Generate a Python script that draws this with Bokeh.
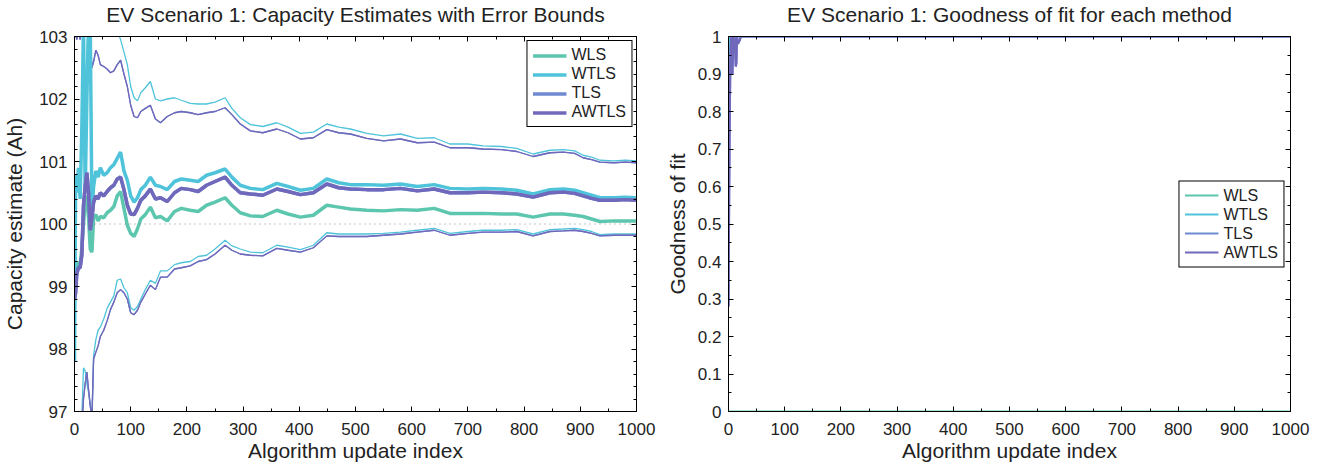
from bokeh.plotting import figure
from bokeh.layouts import row
from bokeh.models import (LinearAxis, Range1d, SingleIntervalTicker, Span, Legend,
                          LegendItem, CustomJSTickFormatter, CustomLabelingPolicy)
from bokeh.embed import file_html
from bokeh.resources import INLINE

# ---------------- data ----------------
update_index = [0, 2, 4, 7, 10, 13, 16, 19, 22, 25,
                28, 31, 34, 38, 42, 46, 52, 58, 64, 70,
                76, 82, 88, 94, 100, 106, 112, 118, 126, 135,
                144, 153, 165, 178, 190, 206, 220, 235, 250, 268,
                280, 295, 313, 335, 360, 380, 402, 425, 449, 470,
                491, 520, 550, 580, 610, 640, 668, 700, 727, 760,
                787, 816, 846, 870, 890, 905, 920, 935, 960, 980,
                1000]

wls_est = [99.1, 99.3, 99.2, 99.4, 99.35, 99.6, 100.0, 100.35, 100.45, 100.1,
           99.6, 99.55, 100.1, 100.15, 100.05, 100.12, 100.1, 100.18, 100.22, 100.28,
           100.45, 100.52, 100.25, 99.98, 99.85, 99.8, 99.92, 100.08, 100.15, 100.27,
           100.1, 100.12, 100.05, 100.2, 100.25, 100.22, 100.2, 100.3, 100.35, 100.42,
           100.3, 100.18, 100.13, 100.12, 100.22, 100.16, 100.11, 100.14, 100.3, 100.27,
           100.24, 100.22, 100.21, 100.23, 100.22, 100.25, 100.17, 100.17, 100.17, 100.16,
           100.16, 100.11, 100.16, 100.16, 100.14, 100.12, 100.08, 100.04, 100.05, 100.05,
           100.05]

wtls_est = [97.8, 100.8, 100.5, 100.9, 100.4, 101.5, 103.2, 100.5, 102.0, 103.3,
            103.2, 100.2, 100.6, 100.85, 100.75, 100.9, 100.78, 100.82, 100.9, 100.95,
            101.05, 101.15, 100.85, 100.7, 100.45, 100.35, 100.42, 100.55, 100.62, 100.75,
            100.62, 100.6, 100.55, 100.68, 100.72, 100.7, 100.68, 100.78, 100.82, 100.88,
            100.75, 100.62, 100.57, 100.55, 100.65, 100.6, 100.54, 100.57, 100.72, 100.66,
            100.63, 100.63, 100.62, 100.64, 100.6, 100.63, 100.57, 100.56, 100.57, 100.56,
            100.54, 100.48, 100.55, 100.56, 100.54, 100.5, 100.46, 100.42, 100.42, 100.43,
            100.42]

awtls_est = [98.8, 98.9, 99.2, 99.3, 99.3, 99.5, 100.3, 100.6, 100.82, 100.5,
             99.9, 100.1, 100.35, 100.45, 100.4, 100.5, 100.45, 100.52, 100.58, 100.62,
             100.72, 100.75, 100.55, 100.3, 100.16, 100.15, 100.25, 100.38, 100.45, 100.56,
             100.4, 100.42, 100.36, 100.5, 100.57, 100.55, 100.52, 100.62, 100.68, 100.75,
             100.62, 100.5, 100.48, 100.46, 100.56, 100.52, 100.47, 100.5, 100.64, 100.58,
             100.56, 100.55, 100.55, 100.57, 100.53, 100.56, 100.5, 100.5, 100.51, 100.5,
             100.48, 100.43, 100.5, 100.51, 100.49, 100.45, 100.41, 100.38, 100.38, 100.39,
             100.38]

# TLS estimate lies under the AWTLS estimate in the picture
tls_est = awtls_est

wtls_upper = [105.0, 104.8, 104.6, 104.5, 104.4, 104.3, 104.2, 104.1, 104.0, 103.9,
              103.8, 103.75, 103.7, 103.65, 103.6, 103.55, 103.5, 103.45, 103.4, 103.3,
              103.1, 102.95, 102.75, 102.55, 102.2, 102.02, 101.97, 102.1, 102.18, 102.28,
              102.0, 101.97, 102.0, 102.02, 101.98, 101.93, 101.92, 101.92, 101.95, 102.02,
              101.85, 101.7, 101.59, 101.56, 101.62, 101.55, 101.45, 101.47, 101.6, 101.55,
              101.52, 101.45, 101.41, 101.44, 101.37, 101.38, 101.28, 101.28, 101.25, 101.24,
              101.21, 101.12, 101.18, 101.19, 101.17, 101.1, 101.07, 101.02, 101.01, 101.02,
              101.01]

awtls_upper = [103.5, 103.05, 102.95, 103.1, 102.95, 103.2, 103.4, 103.3, 103.1, 103.0,
               102.95, 102.5, 102.6, 102.78, 102.7, 102.55, 102.52, 102.48, 102.42, 102.45,
               102.55, 102.62, 102.4, 102.2, 101.9, 101.72, 101.7, 101.8, 101.85, 101.9,
               101.68, 101.62, 101.72, 101.78, 101.8, 101.78, 101.75, 101.78, 101.8, 101.86,
               101.75, 101.6, 101.49, 101.46, 101.52, 101.46, 101.36, 101.38, 101.51, 101.46,
               101.44, 101.37, 101.33, 101.36, 101.3, 101.31, 101.22, 101.22, 101.2, 101.19,
               101.16, 101.08, 101.14, 101.15, 101.13, 101.06, 101.03, 100.99, 100.98, 100.99,
               100.98]

wtls_lower = [95.0, 95.5, 96.0, 96.3, 96.6, 96.9, 97.7, 97.65, 97.45, 97.3,
              97.1, 96.8, 97.9, 98.15, 98.3, 98.35, 98.48, 98.65, 98.75, 98.85,
              99.1, 99.12, 98.98, 98.9, 98.66, 98.62, 98.68, 98.8, 98.95, 99.1,
              99.05, 99.25, 99.25, 99.35, 99.38, 99.4, 99.48, 99.5, 99.6, 99.74,
              99.65, 99.6, 99.55, 99.54, 99.66, 99.63, 99.59, 99.66, 99.86, 99.84,
              99.84, 99.84, 99.85, 99.87, 99.9, 99.93, 99.85, 99.88, 99.9, 99.9,
              99.91, 99.84, 99.91, 99.92, 99.93, 99.91, 99.88, 99.83, 99.84, 99.84,
              99.84]

awtls_lower = [95.0, 95.3, 95.7, 96.0, 96.3, 96.7, 97.2, 97.45, 97.63, 97.35,
               97.1, 96.9, 97.84, 97.95, 98.05, 98.2, 98.3, 98.45, 98.63, 98.75,
               98.9, 98.95, 98.9, 98.8, 98.58, 98.55, 98.62, 98.75, 98.88, 99.02,
               98.95, 99.15, 99.15, 99.28, 99.3, 99.33, 99.4, 99.43, 99.52, 99.66,
               99.58, 99.52, 99.5, 99.49, 99.61, 99.58, 99.55, 99.62, 99.81, 99.8,
               99.8, 99.8, 99.82, 99.84, 99.87, 99.9, 99.82, 99.85, 99.87, 99.87,
               99.88, 99.81, 99.88, 99.89, 99.9, 99.88, 99.85, 99.81, 99.82, 99.82,
               99.82]

true_capacity = 100

# goodness of fit
wls_gof_index = [0, 1000]
wls_gof = [0.0, 0.0]
wtls_gof_index = [0, 1, 2, 3, 4, 5, 6, 7, 8, 10, 12, 14, 16, 20, 1000]
wtls_gof = [0.76, 0.93, 0.99, 1.0, 0.995, 1.0, 0.985, 0.99, 1.0, 1.0, 0.995, 1.0, 1.0, 1.0, 1.0]
awtls_gof_index = [0, 1, 2, 3, 4, 5, 6, 7, 8, 9, 10, 11, 12, 13, 14, 15, 16, 17, 18, 20, 22, 25, 1000]
awtls_gof = [0.28, 0.55, 0.76, 0.9, 0.97, 1.0, 0.95, 0.9, 0.97, 1.0, 1.0, 0.99, 0.96, 0.92,
             0.93, 1.0, 0.99, 0.98, 0.985, 0.99, 1.0, 1.0, 1.0]
tls_gof_index = awtls_gof_index
tls_gof = awtls_gof

methods = ["WLS", "WTLS", "TLS", "AWTLS"]
colors = {"WLS": "#5DC6AE", "WTLS": "#4FC3DA", "TLS": "#6F8AD2", "AWTLS": "#7068BA"}

FONT = "Liberation Sans"
TXT = "#222222"


def style(p, xlabel, ylabel, title_text, yticker, yformatter=None, ylab_standoff=12):
    p.title.text = title_text
    p.title.text_font = FONT
    p.title.text_font_size = "21px"
    p.title.text_font_style = "normal"
    p.title.text_color = TXT
    p.title.align = "center"
    p.title.standoff = 0
    p.xgrid.visible = False
    p.ygrid.visible = False
    p.outline_line_color = "black"
    p.outline_line_alpha = 1
    p.outline_line_width = 1
    p.background_fill_color = "white"
    p.border_fill_color = "white"

    xt = SingleIntervalTicker(interval=100, num_minor_ticks=2)
    p.xaxis.ticker = xt
    p.yaxis.ticker = yticker
    if yformatter is not None:
        p.yaxis.formatter = yformatter
    p.xaxis.axis_label = xlabel
    p.yaxis.axis_label = ylabel
    for ax in (p.xaxis[0], p.yaxis[0]):
        ax.axis_label_text_font = FONT
        ax.axis_label_text_font_size = "21px"
        ax.axis_label_text_font_style = "normal"
        ax.axis_label_text_color = TXT
        ax.major_label_text_font = FONT
        ax.major_label_text_font_size = "17px"
        ax.major_label_text_color = TXT
        ax.axis_line_color = "black"
        ax.major_tick_line_color = "black"
        ax.minor_tick_line_color = "black"
        ax.major_tick_in = 5
        ax.major_tick_out = 0
        ax.minor_tick_in = 3
        ax.minor_tick_out = 0
    p.xaxis.major_label_standoff = 11
    p.xaxis.axis_label_standoff = 1
    p.yaxis.major_label_standoff = 7
    p.yaxis.axis_label_standoff = ylab_standoff

    no_labels = CustomLabelingPolicy(code="return [];")
    top = LinearAxis(ticker=SingleIntervalTicker(interval=100, num_minor_ticks=2),
                     major_label_policy=no_labels, major_tick_in=5, major_tick_out=0,
                     minor_tick_in=3, minor_tick_out=0, axis_line_color="black",
                     major_label_standoff=0)
    p.add_layout(top, "above")
    right = LinearAxis(ticker=yticker, major_label_policy=no_labels,
                       major_tick_in=5, major_tick_out=0, minor_tick_in=3,
                       minor_tick_out=0, axis_line_color="black", major_label_standoff=0)
    p.add_layout(right, "right")


def style_legend(leg):
    leg.label_text_font = FONT
    leg.label_text_font_size = "16px"
    leg.label_text_color = TXT
    leg.border_line_color = "black"
    leg.border_line_width = 1.5
    leg.border_line_alpha = 1
    leg.background_fill_color = "white"
    leg.background_fill_alpha = 1
    leg.glyph_width = 34
    leg.glyph_height = 17
    leg.label_height = 17
    leg.label_standoff = 5
    leg.spacing = 1
    leg.padding = 5


# ---------------- left chart ----------------
p1 = figure(width=662, height=468, x_range=Range1d(0, 1000), y_range=Range1d(97, 103),
            output_backend="svg", toolbar_location=None,
            min_border_left=74, min_border_right=26, min_border_top=35, min_border_bottom=57)
style(p1, "Algorithm update index", "Capacity estimate (Ah)",
      "EV Scenario 1: Capacity Estimates with Error Bounds",
      SingleIntervalTicker(interval=1, num_minor_ticks=5), ylab_standoff=10)

p1.add_layout(Span(location=true_capacity, dimension="width", line_color="#888888",
                   line_dash="1 4", line_width=1))

est = {"WLS": wls_est, "WTLS": wtls_est, "TLS": tls_est, "AWTLS": awtls_est}
bounds = [("WTLS", wtls_upper), ("WTLS", wtls_lower), ("TLS", awtls_upper),
          ("TLS", awtls_lower), ("AWTLS", awtls_upper), ("AWTLS", awtls_lower)]
for m, b in bounds:
    p1.line(update_index, b, line_color=colors[m], line_width=1.3)
items1 = []
for m in methods:
    r = p1.line(update_index, est[m], line_color=colors[m], line_width=3.5)
    items1.append(LegendItem(label=m, renderers=[r]))
leg1 = Legend(items=items1, location="top_right", margin=4)
style_legend(leg1)
p1.add_layout(leg1, "center")

# ---------------- right chart ----------------
p2 = figure(width=663, height=468, x_range=Range1d(0, 1000), y_range=Range1d(0, 1),
            output_backend="svg", toolbar_location=None,
            min_border_left=66, min_border_right=35, min_border_top=35, min_border_bottom=57)
style(p2, "Algorithm update index", "Goodness of fit",
      "EV Scenario 1: Goodness of fit for each method",
      SingleIntervalTicker(interval=0.1, num_minor_ticks=2),
      CustomJSTickFormatter(code="return String(Number(tick.toFixed(1)));"),
      ylab_standoff=6)

gof = {"WLS": (wls_gof_index, wls_gof), "WTLS": (wtls_gof_index, wtls_gof),
       "TLS": (tls_gof_index, tls_gof), "AWTLS": (awtls_gof_index, awtls_gof)}
items2 = []
for m in methods:
    xi, yi = gof[m]
    r = p2.line(xi, yi, line_color=colors[m], line_width=2.2)
    items2.append(LegendItem(label=m, renderers=[r]))
leg2 = Legend(items=items2, location="center_right", margin=6)
style_legend(leg2)
p2.add_layout(leg2, "center")

layout = row(p1, p2)
open("out.html", "w").write(file_html(layout, INLINE))
